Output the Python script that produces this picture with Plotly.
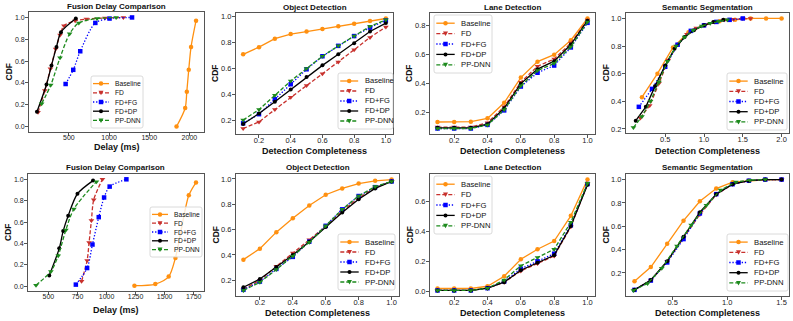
import plotly.graph_objects as go

W, H = 793, 321
FONT = "Liberation Sans, Arial, sans-serif"

series_names = ["Baseline", "FD", "FD+FG", "FD+DP", "PP-DNN"]
completeness = [0.1, 0.2, 0.3, 0.4, 0.5, 0.6, 0.7, 0.8, 0.9, 1.0]

# ---------------- top row ----------------
# fusion delay (ms) -> CDF
delay1_baseline_ms = [1840, 1948, 1968, 1992, 2021, 2083]
delay1_baseline_cdf = [0.0, 0.17, 0.32, 0.52, 0.73, 0.97]
delay1_fd_ms = [115, 200, 270, 335, 390, 438, 578, 718, 948, 1178]
delay1_fd_cdf = [0.13, 0.33, 0.53, 0.71, 0.84, 0.925, 0.97, 0.985, 0.995, 1.0]
delay1_fdfg_ms = [459, 554, 641, 829, 1006, 1286]
delay1_fdfg_cdf = [0.39, 0.52, 0.69, 0.95, 0.99, 1.0]
delay1_fddp_ms = [102, 221, 283, 345, 401, 586]
delay1_fddp_cdf = [0.135, 0.385, 0.56, 0.73, 0.865, 0.99]
delay1_ppdnn_ms = [160, 274, 389, 509, 623, 850, 1088]
delay1_ppdnn_cdf = [0.21, 0.38, 0.63, 0.85, 0.95, 0.99, 1.0]

# object detection, CDF over completeness
obj1_baseline = [0.71, 0.765, 0.83, 0.865, 0.885, 0.905, 0.925, 0.945, 0.965, 0.985]
obj1_fd = [0.14, 0.19, 0.285, 0.38, 0.47, 0.56, 0.65, 0.745, 0.84, 0.92]
obj1_fdfg = [0.18, 0.25, 0.365, 0.48, 0.595, 0.695, 0.775, 0.85, 0.915, 0.97]
obj1_fddp = [0.175, 0.255, 0.345, 0.44, 0.535, 0.625, 0.71, 0.795, 0.885, 0.95]
obj1_ppdnn = [0.205, 0.285, 0.395, 0.505, 0.6, 0.695, 0.775, 0.85, 0.925, 0.975]

# lane detection
lane1_baseline = [0.135, 0.135, 0.137, 0.16, 0.268, 0.442, 0.552, 0.60, 0.70, 0.85]
lane1_fd = [0.10, 0.10, 0.10, 0.13, 0.24, 0.41, 0.52, 0.57, 0.68, 0.84]
lane1_fdfg = [0.09, 0.09, 0.09, 0.115, 0.215, 0.38, 0.475, 0.525, 0.65, 0.82]
lane1_fddp = [0.095, 0.095, 0.095, 0.12, 0.23, 0.40, 0.50, 0.555, 0.67, 0.835]
lane1_ppdnn = [0.09, 0.09, 0.09, 0.115, 0.22, 0.385, 0.49, 0.54, 0.655, 0.825]

# semantic segmentation
seg1_baseline_x = [0.2, 0.4, 0.6, 0.8, 1.0, 1.2, 1.4, 1.6, 1.8, 2.0]
seg1_baseline_y = [0.43, 0.60, 0.79, 0.90, 0.95, 0.98, 0.99, 1.0, 1.0, 1.0]
seg1_fd_x = [0.18, 0.3, 0.42, 0.54, 0.66, 0.78, 0.9, 1.02, 1.14, 1.26, 1.38, 1.5, 1.6]
seg1_fd_y = [0.28, 0.37, 0.53, 0.70, 0.81, 0.885, 0.93, 0.955, 0.975, 0.99, 0.995, 1.0, 1.0]
seg1_fdfg_x = [0.16, 0.33, 0.5, 0.66, 0.83, 1.0, 1.16, 1.33, 1.5]
seg1_fdfg_y = [0.36, 0.49, 0.65, 0.81, 0.91, 0.95, 0.975, 0.99, 1.0]
seg1_fddp_x = [0.12, 0.25, 0.37, 0.5, 0.62, 0.75, 0.87, 1.0, 1.12, 1.25]
seg1_fddp_y = [0.26, 0.36, 0.51, 0.66, 0.78, 0.865, 0.915, 0.95, 0.975, 0.99]
seg1_ppdnn_x = [0.09, 0.2, 0.31, 0.42, 0.53, 0.64, 0.75, 0.86, 0.97, 1.08, 1.19, 1.3]
seg1_ppdnn_y = [0.21, 0.29, 0.40, 0.54, 0.69, 0.80, 0.865, 0.915, 0.945, 0.965, 0.98, 0.99]

# ---------------- bottom row ----------------
delay2_baseline_ms = [1240, 1420, 1535, 1593, 1708, 1770]
delay2_baseline_cdf = [0.005, 0.02, 0.09, 0.265, 0.85, 0.97]
delay2_fd_ms = [785, 833, 850, 870, 890, 965]
delay2_fd_cdf = [0.046, 0.24, 0.41, 0.615, 0.81, 1.0]
delay2_fdfg_ms = [736, 833, 879, 933, 979, 1027, 1171]
delay2_fdfg_cdf = [0.015, 0.17, 0.39, 0.646, 0.83, 0.932, 1.0]
delay2_fddp_ms = [507, 593, 627, 670, 750, 884]
delay2_fddp_cdf = [0.10, 0.354, 0.517, 0.66, 0.865, 0.988]
delay2_ppdnn_ms = [393, 521, 584, 650, 719, 913]
delay2_ppdnn_cdf = [0.01, 0.138, 0.286, 0.526, 0.723, 0.978]

obj2_baseline = [0.363, 0.45, 0.58, 0.69, 0.79, 0.875, 0.925, 0.963, 0.985, 0.995]
obj2_fd = [0.13, 0.20, 0.31, 0.415, 0.52, 0.625, 0.745, 0.85, 0.93, 0.98]
obj2_fdfg = [0.125, 0.19, 0.29, 0.385, 0.505, 0.63, 0.76, 0.865, 0.935, 0.98]
obj2_fddp = [0.145, 0.21, 0.305, 0.40, 0.505, 0.62, 0.735, 0.84, 0.925, 0.98]
obj2_ppdnn = [0.12, 0.185, 0.285, 0.39, 0.50, 0.63, 0.76, 0.865, 0.94, 0.98]

lane2_baseline = [0.018, 0.018, 0.018, 0.033, 0.10, 0.213, 0.28, 0.335, 0.503, 0.745]
lane2_fd = [0.005, 0.005, 0.005, 0.02, 0.06, 0.135, 0.185, 0.235, 0.43, 0.715]
lane2_fdfg = [0.005, 0.005, 0.005, 0.02, 0.065, 0.15, 0.20, 0.25, 0.44, 0.715]
lane2_fddp = [0.005, 0.005, 0.005, 0.02, 0.06, 0.14, 0.19, 0.24, 0.435, 0.71]
lane2_ppdnn = [0.005, 0.005, 0.005, 0.02, 0.075, 0.17, 0.225, 0.28, 0.46, 0.72]

seg2_x = [0.15, 0.3, 0.45, 0.6, 0.75, 0.9, 1.05, 1.2, 1.35, 1.5]
seg2_baseline = [0.128, 0.25, 0.449, 0.648, 0.814, 0.923, 0.977, 0.99, 0.998, 1.0]
seg2_fd = [0.055, 0.135, 0.30, 0.50, 0.70, 0.87, 0.96, 0.99, 1.0, 1.0]
seg2_fdfg = [0.055, 0.135, 0.29, 0.49, 0.71, 0.875, 0.96, 0.99, 1.0, 1.0]
seg2_fddp = [0.055, 0.14, 0.30, 0.51, 0.72, 0.875, 0.96, 0.99, 1.0, 1.0]
seg2_ppdnn_x = [0.14, 0.27, 0.40, 0.54, 0.67, 0.81, 0.94, 1.08, 1.21, 1.35]
seg2_ppdnn = [0.05, 0.11, 0.24, 0.43, 0.61, 0.78, 0.91, 0.98, 0.995, 1.0]

# tick labels
ticks_delay1 = [500, 1000, 1500, 2000]
ticks_delay2 = [500, 750, 1000, 1250, 1500, 1750]
ticks_comp = [0.2, 0.4, 0.6, 0.8, 1.0]
ticks_seg1 = [0.5, 1.0, 1.5, 2.0]
ticks_seg2 = [0.5, 1.0, 1.5]
ticks_cdf_full = [0.0, 0.2, 0.4, 0.6, 0.8, 1.0]
ticks_cdf_upper = [0.2, 0.4, 0.6, 0.8, 1.0]
ticks_lane1 = [0.2, 0.4, 0.6, 0.8]
ticks_lane2 = [0.0, 0.2, 0.4, 0.6]

STYLE = {
    "Baseline": dict(color="#ff9010", dash="solid", symbol="circle", size=4.5),
    "FD": dict(color="#c8312d", dash="4px,2px", symbol="triangle-down", size=5),
    "FD+FG": dict(color="#0000ff", dash="1.3px,1.8px", symbol="square", size=4.5),
    "FD+DP": dict(color="#000000", dash="solid", symbol="circle", size=4),
    "PP-DNN": dict(color="#1d8a1d", dash="4px,2px", symbol="triangle-down", size=5),
}

# frame boxes in pixels: left, top, right, bottom
panels = [
    dict(title="Fusion Delay Comparison", xlabel="Delay (ms)", frame=(29, 12, 204, 132), xlab_y=146.7,
         series=[(delay1_baseline_ms, delay1_baseline_cdf), (delay1_fd_ms, delay1_fd_cdf),
                 (delay1_fdfg_ms, delay1_fdfg_cdf), (delay1_fddp_ms, delay1_fddp_cdf),
                 (delay1_ppdnn_ms, delay1_ppdnn_cdf)],
         xticks=ticks_delay1, xfmt="d", yticks=ticks_cdf_full, spline=True, tick=7,
         legend=(91, 76, 52, 52, 1.0)),
    dict(title="Object Detection", xlabel="Detection Completeness", frame=(236, 13, 393, 134), xlab_y=150.5,
         series=[(completeness, obj1_baseline), (completeness, obj1_fd), (completeness, obj1_fdfg),
                 (completeness, obj1_fddp), (completeness, obj1_ppdnn)],
         xticks=ticks_comp, xfmt=".1f", yticks=ticks_cdf_upper, spline=False, tick=7.5,
         legend=(338, 73, 55, 56, 1.12)),
    dict(title="Lane Detection", xlabel="Detection Completeness", frame=(430, 13, 595, 134), xlab_y=150.5,
         series=[(completeness, lane1_baseline), (completeness, lane1_fd), (completeness, lane1_fdfg),
                 (completeness, lane1_fddp), (completeness, lane1_ppdnn)],
         xticks=ticks_comp, xfmt=".1f", yticks=ticks_lane1, spline=False, tick=7.5,
         legend=(434, 15, 58, 58, 1.15)),
    dict(title="Semantic Segmentation", xlabel="Detection Completeness", frame=(626, 13, 789, 133), xlab_y=150.5,
         series=[(seg1_baseline_x, seg1_baseline_y), (seg1_fd_x, seg1_fd_y), (seg1_fdfg_x, seg1_fdfg_y),
                 (seg1_fddp_x, seg1_fddp_y), (seg1_ppdnn_x, seg1_ppdnn_y)],
         xticks=ticks_seg1, xfmt=".1f", yticks=ticks_cdf_upper, spline=False, tick=7.5,
         legend=(727, 73, 60, 57, 1.15)),
    dict(title="Fusion Delay Comparison", xlabel="Delay (ms)", frame=(28, 174, 204, 291), xlab_y=310,
         series=[(delay2_baseline_ms, delay2_baseline_cdf), (delay2_fd_ms, delay2_fd_cdf),
                 (delay2_fdfg_ms, delay2_fdfg_cdf), (delay2_fddp_ms, delay2_fddp_cdf),
                 (delay2_ppdnn_ms, delay2_ppdnn_cdf)],
         xticks=ticks_delay2, xfmt="d", yticks=ticks_cdf_full, spline=True, tick=7,
         legend=(150, 207, 52, 50, 1.0)),
    dict(title="Object Detection", xlabel="Detection Completeness", frame=(236, 174, 399, 296), xlab_y=312.7,
         series=[(completeness, obj2_baseline), (completeness, obj2_fd), (completeness, obj2_fdfg),
                 (completeness, obj2_fddp), (completeness, obj2_ppdnn)],
         xticks=ticks_comp, xfmt=".1f", yticks=ticks_cdf_upper, spline=False, tick=7.5,
         legend=(338, 234, 57, 56, 1.15)),
    dict(title="Lane Detection", xlabel="Detection Completeness", frame=(430, 174, 595, 296), xlab_y=312.7,
         series=[(completeness, lane2_baseline), (completeness, lane2_fd), (completeness, lane2_fdfg),
                 (completeness, lane2_fddp), (completeness, lane2_ppdnn)],
         xticks=ticks_comp, xfmt=".1f", yticks=ticks_lane2, spline=False, tick=7.5,
         legend=(434, 176, 58, 58, 1.15)),
    dict(title="Semantic Segmentation", xlabel="Detection Completeness", frame=(626, 174, 789, 296), xlab_y=312.7,
         series=[(seg2_x, seg2_baseline), (seg2_x, seg2_fd), (seg2_x, seg2_fdfg),
                 (seg2_x, seg2_fddp), (seg2_ppdnn_x, seg2_ppdnn)],
         xticks=ticks_seg2, xfmt=".1f", yticks=ticks_cdf_upper, spline=False, tick=7.5,
         legend=(727, 234, 61, 57, 1.15)),
]


def fx(px):
    return px / W


def fy(py):
    return 1 - py / H


def padded(values):
    lo, hi = min(values), max(values)
    m = (hi - lo) * 0.05
    return [lo - m, hi + m]


fig = go.Figure()
shapes = []
annotations = []

for k, p in enumerate(panels):
    ax = "" if k == 0 else str(k + 1)
    l, t, r, b = p["frame"]
    all_x, all_y = [], []
    for name, (xs, ys) in zip(series_names, p["series"]):
        st = STYLE[name]
        all_x += list(xs)
        all_y += list(ys)
        fig.add_trace(go.Scatter(
            x=xs, y=ys, mode="lines+markers", name=name, showlegend=False,
            xaxis="x" + ax, yaxis="y" + ax,
            line=dict(color=st["color"], width=1.3, dash=st["dash"],
                      shape="spline" if p["spline"] else "linear", smoothing=0.8),
            marker=dict(symbol=st["symbol"], size=st["size"], color=st["color"])))

    axis_common = dict(showline=True, mirror=True, linecolor="#555", linewidth=0.9,
                       ticks="outside", ticklen=3, tickwidth=0.8, tickcolor="#555",
                       showgrid=False, zeroline=False, automargin=False,
                       tickfont=dict(family=FONT, size=p["tick"], color="#222"))
    fig.update_layout(**{
        "xaxis" + ax: dict(domain=[fx(l), fx(r)], anchor="y" + ax, range=padded(all_x),
                           tickvals=p["xticks"], tickformat=p["xfmt"], ticklabelstandoff=-4,
                           **axis_common),
        "yaxis" + ax: dict(domain=[fy(b), fy(t)], anchor="x" + ax, range=padded(all_y),
                           tickvals=p["yticks"], tickformat=".1f", ticklabelstandoff=-1,
                           **axis_common),
    })

    # titles
    annotations.append(dict(x=fx((l + r) / 2), y=fy(t - 6), text="<b>%s</b>" % p["title"],
                            font=dict(family=FONT, size=8, color="#111")))
    annotations.append(dict(x=fx((l + r) / 2), y=fy(p["xlab_y"]), text="<b>%s</b>" % p["xlabel"],
                            font=dict(family=FONT, size=9, color="#111")))
    annotations.append(dict(x=fx(l - 20.5), y=fy((t + b) / 2), text="<b>CDF</b>", textangle=-90,
                            font=dict(family=FONT, size=8.5, color="#111")))

    # hand-built legend box (matplotlib style)
    lx, ly, lw, lh, s = p["legend"]
    rad = 2
    box = ("M{a},{b} L{c},{b} Q{d},{b} {d},{e} L{d},{f} Q{d},{g} {c},{g} "
           "L{a},{g} Q{h},{g} {h},{f} L{h},{e} Q{h},{b} {a},{b} Z").format(
        a=fx(lx + rad), b=fy(ly), c=fx(lx + lw - rad), d=fx(lx + lw), e=fy(ly + rad),
        f=fy(ly + lh - rad), g=fy(ly + lh), h=fx(lx))
    shapes.append(dict(type="path", xref="paper", yref="paper", path=box,
                       line=dict(color="#d0d0d0", width=0.8), fillcolor="rgba(255,255,255,0.8)"))
    step = (lh - 6) / len(series_names)
    for i, name in enumerate(series_names):
        st = STYLE[name]
        cy = ly + 3 + step * (i + 0.5)
        shapes.append(dict(type="line", xref="paper", yref="paper",
                           x0=fx(lx + 2 * s), x1=fx(lx + 18 * s), y0=fy(cy), y1=fy(cy),
                           line=dict(color=st["color"], width=1.3, dash=st["dash"])))
        mx = lx + 10 * s
        rr = st["size"] / 2
        if st["symbol"] == "circle":
            shapes.append(dict(type="circle", xref="paper", yref="paper",
                               x0=fx(mx - rr), x1=fx(mx + rr), y0=fy(cy + rr), y1=fy(cy - rr),
                               fillcolor=st["color"], line=dict(width=0)))
        elif st["symbol"] == "square":
            shapes.append(dict(type="rect", xref="paper", yref="paper",
                               x0=fx(mx - rr), x1=fx(mx + rr), y0=fy(cy + rr), y1=fy(cy - rr),
                               fillcolor=st["color"], line=dict(width=0)))
        else:
            tri = "M{},{} L{},{} L{},{} Z".format(fx(mx - rr), fy(cy - rr * 0.8), fx(mx + rr), fy(cy - rr * 0.8),
                                                fx(mx), fy(cy + rr))
            shapes.append(dict(type="path", xref="paper", yref="paper", path=tri,
                               fillcolor=st["color"], line=dict(width=0)))
        annotations.append(dict(x=fx(lx + 22 * s), y=fy(cy), text=name, xanchor="left",
                                font=dict(family=FONT, size=6.7 * s, color="#111")))

for a in annotations:
    a.update(xref="paper", yref="paper", showarrow=False)
    a.setdefault("xanchor", "center")
    a.setdefault("yanchor", "middle")

fig.update_layout(width=W, height=H, margin=dict(l=0, r=0, t=0, b=0),
                  paper_bgcolor="white", plot_bgcolor="white",
                  shapes=shapes, annotations=annotations, showlegend=False)

# the browser's default 8px body margin would shift the whole figure
fig.write_html("out.html", config={"displayModeBar": False},
               post_script="document.body.style.margin='0';document.body.style.overflow='hidden';")
